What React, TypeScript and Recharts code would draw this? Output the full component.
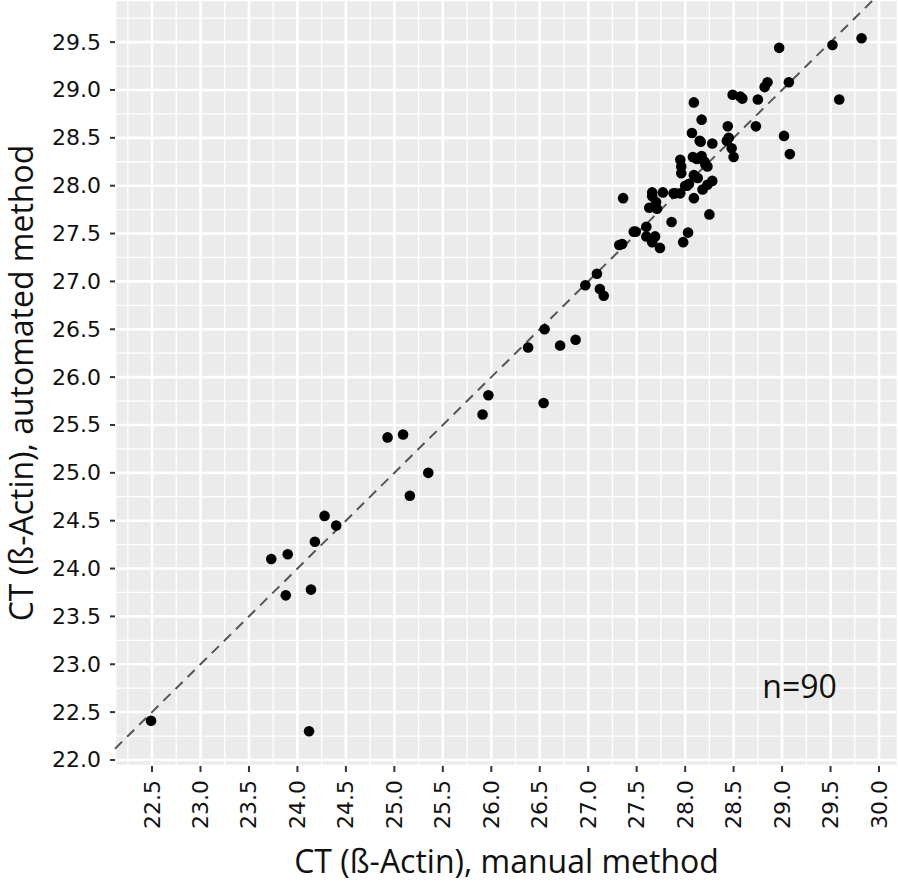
import React from "react";
import {
  ScatterChart,
  Scatter,
  XAxis,
  YAxis,
  CartesianGrid,
  ReferenceLine,
  ReferenceDot,
} from "recharts";

// CT (ß-Actin), manual method
const manualCT: number[] = [
  22.49, 24.12, 23.73, 23.9, 23.88, 24.14, 24.18, 24.28, 24.4, 24.93,
  25.09, 25.35, 25.16, 25.91, 25.97, 26.54, 26.38, 26.55, 26.71, 26.87,
  26.97, 27.09, 27.12, 27.16, 27.32, 27.35, 27.36, 27.47, 27.49, 27.6,
  27.6, 27.69, 27.66, 27.74, 27.98, 28.03, 27.86, 28.25, 27.63, 27.71,
  27.7, 27.66, 27.66, 27.77, 27.9, 27.95, 28.09, 28.0, 28.04, 28.18,
  28.23, 28.28, 28.13, 28.09, 27.96, 27.96, 28.23, 28.2, 27.95, 28.08,
  28.17, 28.5, 28.48, 28.43, 28.45, 28.28, 28.15, 28.07, 28.17, 28.44,
  28.73, 28.09, 28.49, 28.59, 28.57, 28.75, 28.82, 28.85, 29.07, 28.97,
  29.52, 29.82, 29.59, 29.02, 29.08, 28.12, 28.02, 28.21, 27.88, 28.16,
];

// CT (ß-Actin), automated method
const automatedCT: number[] = [
  22.41, 22.3, 24.1, 24.15, 23.72, 23.78, 24.28, 24.55, 24.45, 25.37,
  25.4, 25.0, 24.76, 25.61, 25.81, 25.73, 26.31, 26.5, 26.33, 26.39,
  26.96, 27.08, 26.92, 26.85, 27.38, 27.39, 27.87, 27.52, 27.52, 27.57,
  27.47, 27.47, 27.41, 27.35, 27.41, 27.51, 27.62, 27.7, 27.77, 27.76,
  27.83, 27.89, 27.93, 27.93, 27.92, 27.92, 27.87, 28.0, 28.02, 27.96,
  28.01, 28.05, 28.08, 28.11, 28.13, 28.2, 28.2, 28.25, 28.27, 28.3,
  28.31, 28.3, 28.39, 28.47, 28.5, 28.44, 28.47, 28.55, 28.69, 28.62,
  28.62, 28.87, 28.95, 28.91, 28.93, 28.9, 29.03, 29.08, 29.08, 29.44,
  29.47, 29.54, 28.9, 28.52, 28.33, 28.28, 28.0, 28.22, 27.92, 28.46,
];

const xTicks: number[] = [22.5, 23, 23.5, 24, 24.5, 25, 25.5, 26, 26.5, 27, 27.5, 28, 28.5, 29, 29.5, 30];
const yTicks: number[] = [22, 22.5, 23, 23.5, 24, 24.5, 25, 25.5, 26, 26.5, 27, 27.5, 28, 28.5, 29, 29.5];
const xMinor: number[] = [22.25, 22.75, 23.25, 23.75, 24.25, 24.75, 25.25, 25.75, 26.25, 26.75, 27.25, 27.75, 28.25, 28.75, 29.25, 29.75];
const yMinor: number[] = [22.25, 22.75, 23.25, 23.75, 24.25, 24.75, 25.25, 25.75, 26.25, 26.75, 27.25, 27.75, 28.25, 28.75, 29.25, 29.75];

const xDomain: [number, number] = [22.118, 30.196];
const yDomain: [number, number] = [21.937, 29.94];

const xTitle = "CT (ß-Actin), manual method";
const yTitle = "CT (ß-Actin), automated method";
const nLabel = "n=90";

const data = manualCT.map((x, i) => ({ x, y: automatedCT[i] }));

const TICK_FONT = "'DejaVu Sans', sans-serif";
const TITLE_FONT = "'Open Sans', sans-serif";

const XTick = (props: any) => {
  const { x, y, payload } = props;
  return (
    <text
      x={x}
      y={y}
      transform={`rotate(-90 ${x} ${y})`}
      textAnchor="end"
      dominantBaseline="central"
      fontFamily={TICK_FONT}
      fontSize={22}
      fill="#111"
    >
      {Number(payload.value).toFixed(1)}
    </text>
  );
};

const YTick = (props: any) => {
  const { x, y, payload } = props;
  return (
    <text
      x={x}
      y={y}
      textAnchor="end"
      dominantBaseline="central"
      fontFamily={TICK_FONT}
      fontSize={22}
      fill="#111"
    >
      {Number(payload.value).toFixed(1)}
    </text>
  );
};

const XTitle = (props: any) => {
  const vb = props.viewBox || {};
  const cx = (vb.x ?? 115) + (vb.width ?? 783) / 2;
  return (
    <text x={cx} y={873} textAnchor="middle" fontFamily={TITLE_FONT} fontSize={32} fill="#111">
      {xTitle}
    </text>
  );
};

const YTitle = (props: any) => {
  const vb = props.viewBox || {};
  const cy = (vb.y ?? 0) + (vb.height ?? 766) / 2;
  const bx = 33;
  return (
    <text
      x={bx}
      y={cy}
      transform={`rotate(-90 ${bx} ${cy})`}
      textAnchor="middle"
      fontFamily={TITLE_FONT}
      fontSize={32}
      fill="#111"
    >
      {yTitle}
    </text>
  );
};

const Dot = (props: any) => {
  const { cx, cy } = props;
  return <circle cx={cx} cy={cy} r={5.3} fill="#000" />;
};

export default function App() {
  return (
    <div style={{ position: "absolute", left: 0, top: 0, width: 898, height: 887, background: "#fff" }}>
      <ScatterChart width={898} height={887} margin={{ top: 0, right: 0, bottom: 0, left: 0 }}>
        <CartesianGrid fill="#EBEBEB" stroke="#FFFFFF" strokeWidth={2.6} />
        {xMinor.map((v) => (
          <ReferenceLine key={`xm${v}`} x={v} stroke="#FFFFFF" strokeWidth={1.3} />
        ))}
        {yMinor.map((v) => (
          <ReferenceLine key={`ym${v}`} y={v} stroke="#FFFFFF" strokeWidth={1.3} />
        ))}
        <XAxis
          type="number"
          dataKey="x"
          domain={xDomain}
          ticks={xTicks}
          allowDataOverflow
          axisLine={false}
          tickSize={6}
          tickMargin={8}
          tickLine={{ stroke: "#333", strokeWidth: 2 }}
          tick={<XTick />}
          height={121}
          interval={0}
          label={<XTitle />}
        />
        <YAxis
          type="number"
          dataKey="y"
          domain={yDomain}
          ticks={yTicks}
          allowDataOverflow
          axisLine={false}
          tickSize={5}
          tickMargin={9}
          tickLine={{ stroke: "#333", strokeWidth: 2 }}
          tick={<YTick />}
          width={115}
          interval={0}
          label={<YTitle />}
        />
        <ReferenceLine
          segment={[
            { x: 22.118, y: 22.118 },
            { x: 29.94, y: 29.94 },
          ]}
          stroke="#555555"
          strokeWidth={2}
          strokeDasharray="10 7"
        />
        <ReferenceDot
          x={29.18}
          y={22.77}
          r={0}
          fill="none"
          stroke="none"
          label={{
            value: nLabel,
            position: "center",
            style: { fontFamily: TITLE_FONT, fontSize: 32, fill: "#111" },
          }}
        />
        <Scatter data={data} shape={<Dot />} isAnimationActive={false} />
      </ScatterChart>
    </div>
  );
}
